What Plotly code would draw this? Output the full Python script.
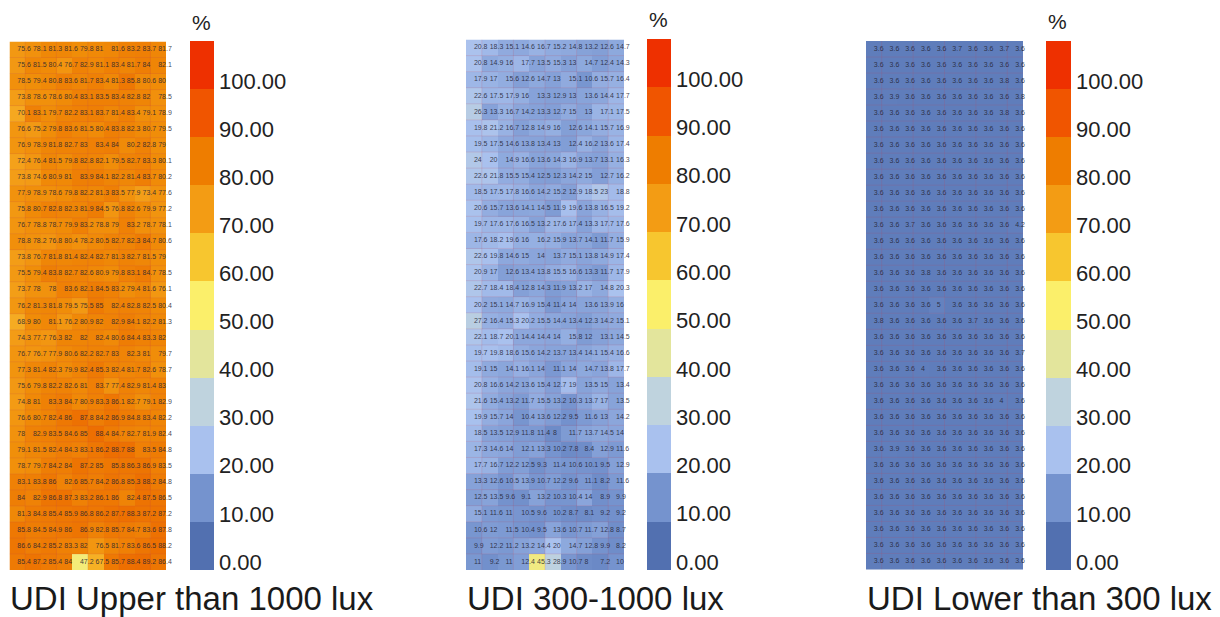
import plotly.graph_objects as go

W, H = 1220, 609
PAGE = 8  # the page's own margin, in pixels

upper = [
[75.6,78.1,81.3,81.6,79.8,81,81.6,83.2,83.7,81.7],
[75.6,81.5,80.4,76.7,82.9,81.1,83.4,81.7,84,82.1],
[78.5,79.4,80.8,83.6,81.7,83.4,81.3,85.8,80.6,80],
[73.8,78.6,78.6,80.4,83.1,83.5,83.4,82.8,82,78.5],
[70.1,83.1,79.7,82.2,83.1,83.7,81.4,83.4,79.1,78.9],
[76.6,75.2,79.8,83.6,81.5,80.4,83.8,82.3,80.7,79.5],
[76.9,78.9,81.8,82.7,83,83.4,84,80.2,82.8,79],
[72.4,76.4,81.5,79.8,82.8,82.1,79.5,82.7,83.3,80.1],
[73.8,74.6,80.9,81,83.9,84.1,82.2,81.4,83.7,80.2],
[77.9,78.9,78.6,79.8,82.2,81.3,83.5,77.9,73.4,77.6],
[75.8,80.7,82.8,82.3,81.9,84.5,76.8,82.6,79.9,77.2],
[76.7,78.8,78.7,79.9,83.2,78.8,79,83.2,78.7,78.1],
[78.8,78.2,76.8,80.4,78.2,80.5,82.7,82.3,84.7,80.6],
[73.8,76.7,81.8,81.4,82.4,82.7,81.3,82.7,81.5,79],
[75.5,79.4,83.8,82.7,82.6,80.9,79.8,83.1,84.7,78.5],
[73.7,78,78,83.6,82.1,84.5,83.2,79.4,81.6,76.1],
[76.2,81.3,81.8,79.5,75.5,85,82.4,82.8,82.5,80.4],
[68.9,80,81.1,76.2,80.9,82,82.9,84.1,82.2,81.3],
[74.3,77.7,76.3,82,82,82.4,80.6,84.4,83.3,82],
[76.7,76.7,77.9,80.6,82.2,82.7,83,82.3,81,79.7],
[77.3,81.4,82.3,79.9,82.4,85.3,82.4,81.7,82.6,78.7],
[75.6,79.8,82.2,82.6,81,83.7,77.4,82.9,81.4,83],
[74.8,81,83.3,84.7,80.9,83.3,86.1,82.7,79.1,82.9],
[76.6,80.7,82.4,86,87.8,84.2,86.9,84.8,83.4,82.2],
[78,82.9,83.5,84.6,85,88.4,84.7,82.7,81.9,82.4],
[79.1,81.5,82.4,84.3,83.1,86.2,88.7,88,83.5,84.8],
[78.7,79.7,84.2,84,87.2,85,85.8,86.3,86.9,83.5],
[83.1,83.8,86,82.6,85.7,84.2,86.8,85.3,88.2,84.8],
[84,82.9,86.8,87.3,83.2,86.1,86,82.4,87.5,86.5],
[81.3,84.8,85.4,85.9,86.8,86.2,87.7,88.3,87.2,87.2],
[85.8,84.5,84.9,86,86.9,82.8,85.7,84.7,83.6,87.8],
[86.6,84.2,85.2,83.3,82,76.5,81.7,83.6,86.5,88.2],
[85.4,87.2,85.4,84,47.2,67.5,85.7,88.4,89.2,86.4],
]

middle = [
[20.8,18.3,15.1,14.6,16.7,15.2,14.8,13.2,12.6,14.7],
[20.8,14.9,16,17.7,13.5,15.3,13,14.7,12.4,14.3],
[17.9,17,15.6,12.6,14.7,13,15.1,10.6,15.7,16.4],
[22.6,17.5,17.9,16,13.3,12.9,13,13.6,14.4,17.7],
[26.3,13.3,16.7,14.2,13.3,12.7,15,13,17.1,17.5],
[19.8,21.2,16.7,12.8,14.9,16,12.6,14.1,15.7,16.9],
[19.5,17.5,14.6,13.8,13.4,13,12.4,16.2,13.6,17.4],
[24,20,14.9,16.6,13.6,14.3,16.9,13.7,13.1,16.3],
[22.6,21.8,15.5,15.4,12.5,12.3,14.2,15,12.7,16.2],
[18.5,17.5,17.8,16.6,14.2,15.2,12.9,18.5,23,18.8],
[20.6,15.7,13.6,14.1,14.5,11.9,19.6,13.8,16.5,19.2],
[19.7,17.6,17.6,16.5,13.2,17.6,17.4,13.3,17.7,17.6],
[17.6,18.2,19.6,16,16.2,15.9,13.7,14.1,11.7,15.9],
[22.6,19.8,14.6,15,14,13.7,15.1,13.8,14.9,17.4],
[20.9,17,12.6,13.4,13.8,15.5,16.6,13.3,11.7,17.9],
[22.7,18.4,18.4,12.8,14.3,11.9,13.2,17,14.8,20.3],
[20.2,15.1,14.7,16.9,15.4,11.4,14,13.6,13.9,16],
[27.2,16.4,15.3,20.2,15.5,14.4,13.4,12.3,14.2,15.1],
[22.1,18.7,20.1,14.4,14.4,14,15.8,12,13.1,14.5],
[19.7,19.8,18.6,15.6,14.2,13.7,13.4,14.1,15.4,16.6],
[19.1,15,14.1,16.1,14,11.1,14,14.7,13.8,17.7],
[20.8,16.6,14.2,13.6,15.4,12.7,19,13.5,15,13.4],
[21.6,15.4,13.2,11.7,15.5,13.2,10.3,13.7,17,13.5],
[19.9,15.7,14,10.4,13.6,12.2,9.5,11.6,13,14.2],
[18.5,13.5,12.9,11.8,11.4,8,11.7,13.7,14.5,14],
[17.3,14.6,14,12.1,13.3,10.2,7.8,8.4,12.9,11.6],
[17.7,16.7,12.2,12.5,9.3,11.4,10.6,10.1,9.5,12.9],
[13.3,12.6,10.5,13.9,10.7,12.2,9.6,11.1,8.2,11.6],
[12.5,13.5,9.6,9.1,13.2,10.3,10.4,14,8.9,9.9],
[15.1,11.6,11,10.5,9.6,10.2,8.7,8.1,9.2,9.2],
[10.6,12,11.5,10.4,9.5,13.6,10.7,11.7,12.8,8.7],
[9.9,12.2,11.2,13.2,14.4,20,14.7,12.8,9.9,8.2],
[11,9.2,11,12.4,45.3,28.9,10.7,8,7.2,10],
]

lower = [
[3.6,3.6,3.6,3.6,3.6,3.7,3.6,3.6,3.7,3.6],
[3.6,3.6,3.6,3.6,3.6,3.6,3.6,3.6,3.6,3.6],
[3.6,3.6,3.6,3.6,3.6,3.6,3.6,3.6,3.8,3.6],
[3.6,3.9,3.6,3.6,3.6,3.6,3.6,3.6,3.6,3.8],
[3.6,3.6,3.6,3.6,3.6,3.6,3.6,3.6,3.8,3.6],
[3.6,3.6,3.6,3.6,3.6,3.6,3.6,3.6,3.6,3.6],
[3.6,3.6,3.6,3.6,3.6,3.6,3.6,3.6,3.6,3.6],
[3.6,3.6,3.6,3.6,3.6,3.6,3.6,3.6,3.6,3.6],
[3.6,3.6,3.6,3.6,3.6,3.6,3.6,3.6,3.6,3.6],
[3.6,3.6,3.6,3.6,3.6,3.6,3.6,3.6,3.6,3.6],
[3.6,3.6,3.6,3.6,3.6,3.6,3.6,3.6,3.6,3.6],
[3.6,3.6,3.7,3.6,3.6,3.6,3.6,3.6,3.6,4.2],
[3.6,3.6,3.6,3.6,3.6,3.6,3.6,3.6,3.6,3.6],
[3.6,3.6,3.6,3.6,3.6,3.6,3.6,3.6,3.6,3.6],
[3.6,3.6,3.6,3.8,3.6,3.6,3.6,3.6,3.6,3.6],
[3.6,3.6,3.6,3.6,3.6,3.6,3.6,3.6,3.6,3.6],
[3.6,3.6,3.6,3.6,5,3.6,3.6,3.6,3.6,3.6],
[3.8,3.6,3.6,3.6,3.6,3.6,3.7,3.6,3.6,3.6],
[3.6,3.6,3.6,3.6,3.6,3.6,3.6,3.6,3.6,3.6],
[3.6,3.6,3.6,3.6,3.6,3.6,3.6,3.6,3.6,3.7],
[3.6,3.6,3.6,4,3.6,3.6,3.6,3.6,3.6,3.6],
[3.6,3.6,3.6,3.6,3.6,3.6,3.6,3.6,3.6,3.6],
[3.6,3.6,3.6,3.6,3.6,3.6,3.6,3.6,4,3.6],
[3.6,3.6,3.6,3.6,3.6,3.6,3.6,3.6,3.6,3.6],
[3.6,3.6,3.6,3.6,3.6,3.6,3.6,3.6,3.6,3.6],
[3.6,3.9,3.6,3.6,3.6,3.6,3.6,3.6,3.6,3.6],
[3.6,3.6,3.6,3.6,3.6,3.6,3.6,3.6,3.6,3.6],
[3.6,3.6,3.6,3.6,3.6,3.6,3.6,3.6,3.6,3.6],
[3.6,3.6,3.6,3.6,3.6,3.6,3.6,3.6,3.6,3.6],
[3.6,3.6,3.6,3.6,3.6,3.6,3.6,3.6,3.6,3.6],
[3.6,3.6,3.6,3.6,3.6,3.6,3.6,3.6,3.6,3.6],
[3.6,3.6,3.6,3.6,3.6,3.6,3.6,3.6,3.6,3.6],
[3.6,3.6,3.6,3.6,3.6,3.6,3.6,3.6,3.6,3.6],
]

band_colors = ["#5270B0", "#7593CE", "#A9C1EE", "#BFD3DE", "#E3E59C", "#FBEF6A",
               "#F7C62F", "#F39C14", "#EE7D00", "#F05500", "#EE3000"]
cell_colors = ["#5270B0", "#7593CE", "#A9C1EE", "#BFD3DE", "#E3E59C", "#FBEF6A",
               "#F7C62F", "#F5A820", "#F08C08", "#EC6A00", "#EE3000"]
legend_mid = [5, 15, 25, 35, 45, 55, 65, 75, 85, 95, 105]
legend_tickvals = [1.67, 11.67, 21.67, 31.67, 41.67, 51.67, 61.67, 71.67, 81.67, 91.67, 101.67]
legend_ticktext = ["0.00", "10.00", "20.00", "30.00", "40.00", "50.00",
                   "60.00", "70.00", "80.00", "90.00", "100.00"]
titles = ["UDI Upper than 1000 lux", "UDI 300-1000 lux", "UDI Lower than 300 lux"]

cont_scale = [[i / 10, c] for i, c in enumerate(cell_colors)]
step_scale = []
for i, c in enumerate(band_colors):
    step_scale += [[i / 11, c], [(i + 1) / 11, c]]

# panel geometry in screen pixels: x0, x1, y0, y1, legend x0, x1, legend y0, y1, % x, % y, title x
panels = [
    (upper,  9.5, 166, 41.5, 570, 190, 214, 41, 570, 201, 23, 10),
    (middle, 466, 624, 39.5, 570, 647, 671, 39, 570, 658, 20, 467),
    (lower,  866, 1023, 41, 569.5, 1046, 1071, 41, 570, 1057, 22, 867),
]


def fx(px):
    return (px - PAGE) / W


def fy(py):
    return 1 - (py - PAGE) / H


FONT = "Liberation Sans, Arial, sans-serif"
fig = go.Figure()
shapes, annotations, axes = [], [], {}
n = 0
for data, x0, x1, y0, y1, lx0, lx1, ly0, ly1, px, py, tx in panels:
    rows, cols = len(data), len(data[0])
    n += 1
    xa, ya = f"x{n}", f"y{n}"
    xs = list(range(cols))
    ys = list(range(rows))
    fig.add_trace(go.Heatmap(z=data, x=xs, y=ys, xaxis=xa, yaxis=ya, colorscale=cont_scale,
                             zmin=0, zmax=100, showscale=False, hoverinfo="skip"))
    fig.add_trace(go.Scatter(
        x=[c for r in ys for c in xs], y=[r for r in ys for c in xs],
        text=[f"{v:g}" for row in data for v in row], mode="text",
        textposition="middle right", xaxis=xa, yaxis=ya, cliponaxis=False,
        textfont=dict(size=7, color="rgba(35,35,50,0.85)", family=FONT),
        hoverinfo="skip", showlegend=False))
    axes[f"xaxis{n}"] = dict(domain=[fx(x0), fx(x1)], range=[-0.5, cols - 0.5], visible=False,
                             anchor=ya, fixedrange=True, automargin=False)
    axes[f"yaxis{n}"] = dict(domain=[fy(y1), fy(y0)], range=[rows - 0.5, -0.5],
                             visible=False, anchor=xa, fixedrange=True, automargin=False)
    for c in range(1, cols, 2):
        shapes.append(dict(type="line", xref=xa, yref=ya, x0=c - 0.5, x1=c - 0.5, y0=-0.5,
                           y1=rows - 0.5, line=dict(color="rgba(190,70,90,0.16)", width=1)))
    for r in range(1, rows):
        shapes.append(dict(type="line", xref=xa, yref=ya, x0=-0.5, x1=cols - 0.5, y0=r - 0.5,
                           y1=r - 0.5, line=dict(color="rgba(190,70,90,0.16)", width=1)))

    n += 1
    xa, ya = f"x{n}", f"y{n}"
    fig.add_trace(go.Heatmap(z=[[v] for v in legend_mid], x=[0], y=legend_mid, xaxis=xa, yaxis=ya,
                             colorscale=step_scale, zmin=0, zmax=110, showscale=False,
                             hoverinfo="skip"))
    axes[f"xaxis{n}"] = dict(domain=[fx(lx0), fx(lx1)], visible=False, anchor=ya, fixedrange=True,
                             automargin=False)
    axes[f"yaxis{n}"] = dict(domain=[fy(ly1), fy(ly0)], range=[0, 110], side="right",
                             anchor=xa, tickmode="array", tickvals=legend_tickvals,
                             ticktext=legend_ticktext, ticks="", ticklabelstandoff=4,
                             showgrid=False, zeroline=False,
                             showline=False, fixedrange=True, automargin=False,
                             tickfont=dict(size=22, color="#222222", family=FONT))
    annotations.append(dict(xref="paper", yref="paper", x=fx(px), y=fy(py), text="%",
                            showarrow=False, xanchor="center", yanchor="middle",
                            font=dict(size=21, color="#222222", family=FONT)))

for panel, title in zip(panels, titles):
    annotations.append(dict(xref="paper", yref="paper", x=fx(panel[11]), y=fy(598), text=title,
                            showarrow=False, xanchor="left", yanchor="middle", xshift=-2,
                            font=dict(size=33, color="#1a1a1a", family=FONT)))

fig.update_layout(width=W, height=H, margin=dict(l=0, r=0, t=0, b=0), paper_bgcolor="white",
                  plot_bgcolor="white", showlegend=False, shapes=shapes, annotations=annotations,
                  **axes)
fig.write_html("out.html", config={"displayModeBar": False})
